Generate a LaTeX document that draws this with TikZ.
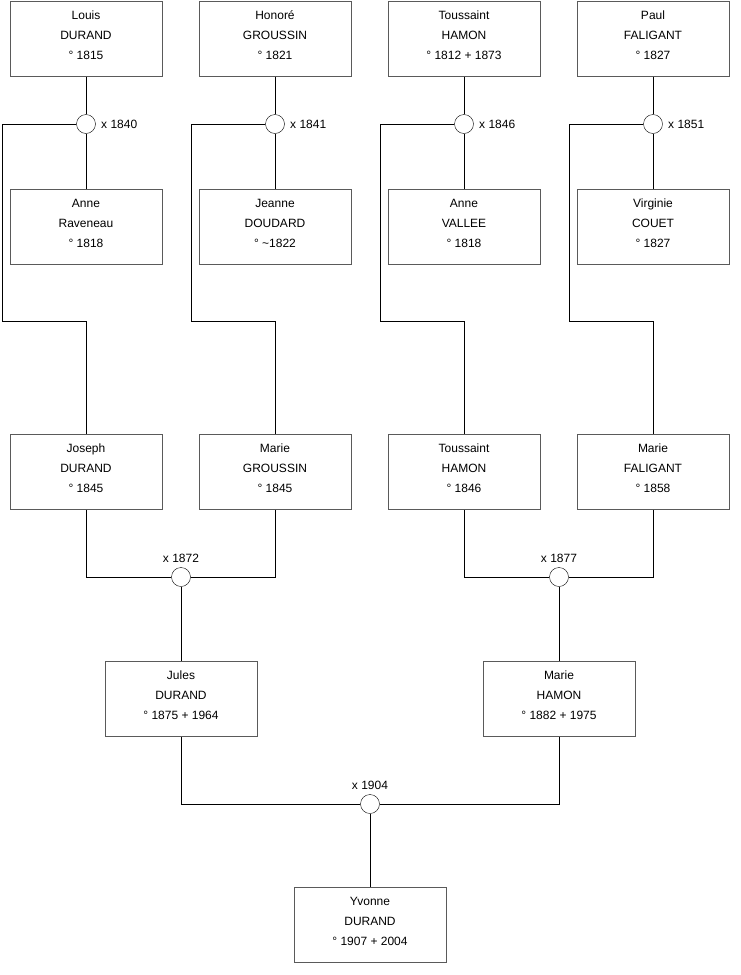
\documentclass[tikz,border=0pt]{standalone}
\usepackage{fontspec}
\setmainfont{Liberation Sans}
\usepackage{tikz}
\definecolor{boxgray}{RGB}{90, 90, 90}

\begin{document}
\begin{tikzpicture}[x=1pt, y=-1pt, font=\fontsize{12}{20}\selectfont,
  pers/.style={draw=boxgray, line width=1pt, fill=white, align=center,
    minimum width=152pt, minimum height=75pt, inner sep=0pt, text depth=7pt},
  wed/.style={draw, circle, fill=white, minimum size=19pt, inner sep=0pt},
  lnk/.style={line width=0.8pt}]
  \useasboundingbox (0,0) rectangle (740,975);
  % grandparents of the grandparents
  \node[pers] (LD) at (86,38.5) {Louis\\ DURAND\\ ° 1815};
  \node[pers] (HG) at (275,38.5) {Honoré\\ GROUSSIN\\ ° 1821};
  \node[pers] (TH) at (464,38.5) {Toussaint\\ HAMON\\ ° 1812 + 1873};
  \node[pers] (PF) at (653,38.5) {Paul\\ FALIGANT\\ ° 1827};
  \node[pers] (AR) at (86,227) {Anne\\ Raveneau\\ ° 1818};
  \node[pers] (JD) at (275,227) {Jeanne\\ DOUDARD\\ ° \textasciitilde1822};
  \node[pers] (AV) at (464,227) {Anne\\ VALLEE\\ ° 1818};
  \node[pers] (VC) at (653,227) {Virginie\\ COUET\\ ° 1827};
  % their children
  \node[pers] (JoD) at (86,472) {Joseph\\ DURAND\\ ° 1845};
  \node[pers] (MG) at (275,472) {Marie\\ GROUSSIN\\ ° 1845};
  \node[pers] (ToH) at (464,472) {Toussaint\\ HAMON\\ ° 1846};
  \node[pers] (MF) at (653,472) {Marie\\ FALIGANT\\ ° 1858};
  \node[pers] (JuD) at (181,699) {Jules\\ DURAND\\ ° 1875 + 1964};
  \node[pers] (MH) at (559,699) {Marie\\ HAMON\\ ° 1882 + 1975};
  \node[pers] (YD) at (370,925) {Yvonne\\ DURAND\\ ° 1907 + 2004};
  % weddings
  \node[wed] (w1) at (86,124) {};
  \node[wed] (w2) at (275,124) {};
  \node[wed] (w3) at (464,124) {};
  \node[wed] (w4) at (653,124) {};
  \node[wed] (w5) at (181,577) {};
  \node[wed] (w6) at (559,577) {};
  \node[wed] (w7) at (370,804) {};
  \node[anchor=west] (d1) at ([xshift=2pt]w1.east) {x 1840};
  \node[anchor=west] (d2) at ([xshift=2pt]w2.east) {x 1841};
  \node[anchor=west] (d3) at ([xshift=2pt]w3.east) {x 1846};
  \node[anchor=west] (d4) at ([xshift=2pt]w4.east) {x 1851};
  \node[anchor=south] (d5) at ([yshift=1pt]w5.north) {x 1872};
  \node[anchor=south] (d6) at ([yshift=1pt]w6.north) {x 1877};
  \node[anchor=south] (d7) at ([yshift=1pt]w7.north) {x 1904};
  \coordinate (k1) at (2,321);
  \coordinate (k2) at (191,321);
  \coordinate (k3) at (380,321);
  \coordinate (k4) at (569,321);
  % lines
  \draw[lnk] (LD) -- (w1); \draw[lnk] (w1) -- (AR);
  \draw[lnk] (HG) -- (w2); \draw[lnk] (w2) -- (JD);
  \draw[lnk] (TH) -- (w3); \draw[lnk] (w3) -- (AV);
  \draw[lnk] (PF) -- (w4); \draw[lnk] (w4) -- (VC);
  \draw[lnk] (w1.west) -| (k1) -| (JoD.north);
  \draw[lnk] (w2.west) -| (k2) -| (MG.north);
  \draw[lnk] (w3.west) -| (k3) -| (ToH.north);
  \draw[lnk] (w4.west) -| (k4) -| (MF.north);
  \draw[lnk] (JoD.south) |- (w5.west);
  \draw[lnk] (MG.south) |- (w5.east);
  \draw[lnk] (ToH.south) |- (w6.west);
  \draw[lnk] (MF.south) |- (w6.east);
  \draw[lnk] (w5) -- (JuD); \draw[lnk] (w6) -- (MH);
  \draw[lnk] (JuD.south) |- (w7.west);
  \draw[lnk] (MH.south) |- (w7.east);
  \draw[lnk] (w7) -- (YD);
\end{tikzpicture}
\end{document}
